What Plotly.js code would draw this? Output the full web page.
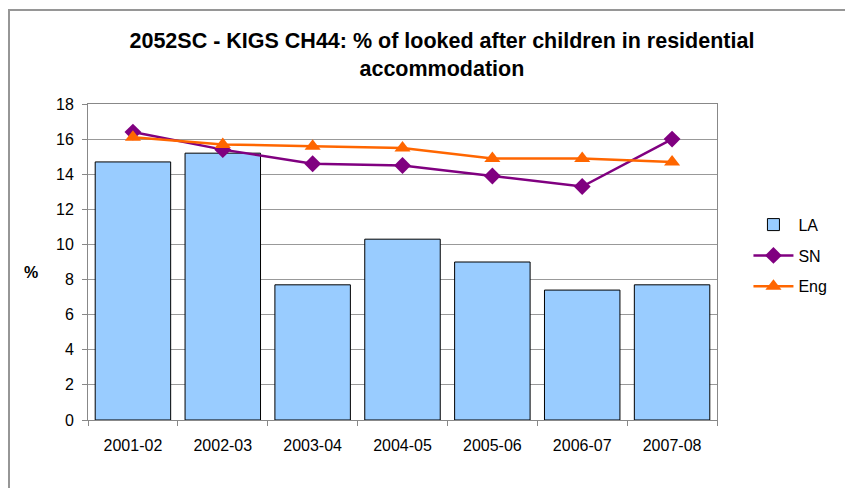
<!DOCTYPE html>
<html>
<head>
<meta charset="utf-8">
<script src="https://cdn.plot.ly/plotly-3.0.1.min.js"></script>
<style>
  html, body { margin: 0; padding: 0; background: #fff; overflow: hidden; }
  #wrap { position: relative; width: 845px; height: 488px; }
  #chart { width: 845px; height: 488px; }
  #frame { position: absolute; left: 8px; top: 9px; width: 900px; height: 600px;
           border: 2px solid #969696; box-sizing: border-box; pointer-events: none; }
</style>
</head>
<body>
<div id="wrap">
  <div id="chart"></div>
  <div id="frame"></div>
</div>
<script>
const categories = ["2001-02", "2002-03", "2003-04", "2004-05", "2005-06", "2006-07", "2007-08"];
const laValues  = [14.7, 15.2, 7.7, 10.3, 9.0, 7.4, 7.7];
const snValues  = [16.4, 15.4, 14.6, 14.5, 13.9, 13.3, 16.0];
const engValues = [16.1, 15.7, 15.6, 15.5, 14.9, 14.9, 14.7];
const yTicks = [0, 2, 4, 6, 8, 10, 12, 14, 16, 18];

const FONT = "Liberation Sans, Arial, sans-serif";

const traces = [
  {
    type: "bar", name: "LA", x: categories, y: laValues,
    marker: { color: "#99CCFF", line: { color: "#000000", width: 1 } },
    legendgroup: "a"
  },
  {
    type: "scatter", mode: "lines+markers", name: "SN", x: categories, y: snValues,
    line: { color: "#800080", width: 2.5 },
    marker: { symbol: "diamond", size: 13, color: "#800080" },
    legendgroup: "b"
  },
  {
    type: "scatter", mode: "lines+markers", name: "Eng", x: categories, y: engValues,
    line: { color: "#FF6600", width: 2.5 },
    marker: { symbol: "triangle-up", size: 14, color: "#FF6600" },
    legendgroup: "c"
  }
];

const layout = {
  width: 845, height: 488,
  margin: { l: 88, r: 128, t: 104, b: 68 },
  paper_bgcolor: "rgba(0,0,0,0)",
  plot_bgcolor: "#ffffff",
  font: { family: FONT, size: 16, color: "#000000" },
  title: {
    text: "<b>2052SC - KIGS CH44: % of looked after children in residential<br>accommodation</b>",
    font: { family: FONT, size: 21.5, color: "#000000" },
    x: 0.523, xanchor: "center", xref: "container",
    y: 0.902, yanchor: "top", yref: "container"
  },
  bargap: 0.16,
  showlegend: true,
  legend: {
    x: 1.05, xanchor: "left", y: 0.52, yanchor: "middle",
    font: { family: FONT, size: 16 },
    tracegroupgap: 7, itemwidth: 40,
    bgcolor: "rgba(0,0,0,0)", traceorder: "grouped"
  },
  xaxis: {
    type: "category",
    showline: true, linecolor: "#888888", linewidth: 1, mirror: true,
    ticks: "outside", ticklen: 5, tickcolor: "#888888",
    tickson: "boundaries",
    ticklabelstandoff: 11,
    showgrid: false,
    tickfont: { family: FONT, size: 16 }
  },
  yaxis: {
    range: [0, 18], tickvals: yTicks, ticktext: yTicks.map(String),
    showline: true, linecolor: "#888888", linewidth: 1, mirror: true,
    ticks: "outside", ticklen: 5, tickcolor: "#888888",
    ticklabelstandoff: 5,
    showgrid: true, gridcolor: "#999999", gridwidth: 1,
    zeroline: false,
    tickfont: { family: FONT, size: 16 }
  },
  annotations: [
    {
      text: "<b>%</b>", xref: "paper", yref: "paper",
      x: (31 - 88) / 629, y: (420 - 272) / 316,
      xanchor: "center", yanchor: "middle", showarrow: false,
      font: { family: FONT, size: 16 }
    }
  ]
};

Plotly.newPlot("chart", traces, layout, { displayModeBar: false, staticPlot: true });
</script>
</body>
</html>
